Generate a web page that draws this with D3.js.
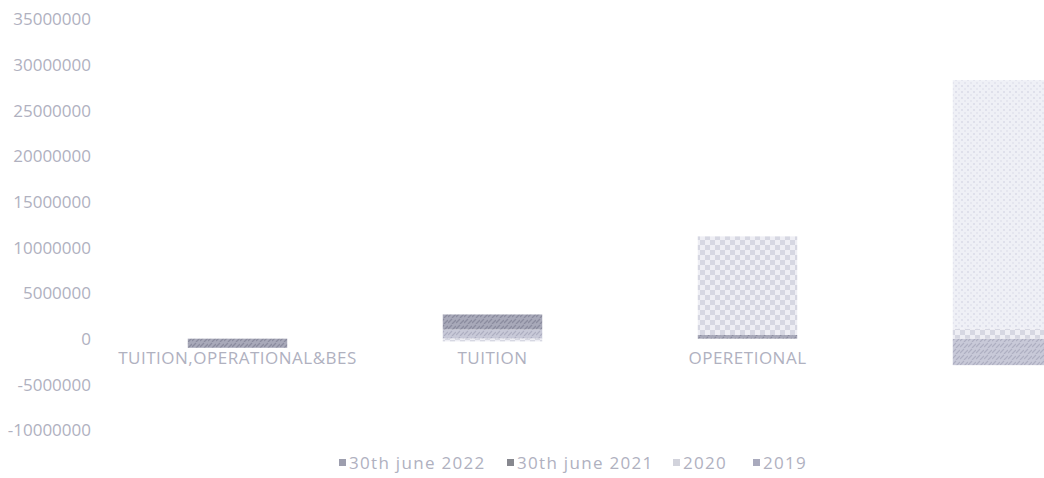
<!DOCTYPE html>
<html><head><meta charset="utf-8">
<script src="https://cdn.jsdelivr.net/npm/d3@7"></script>
<style>
html,body{margin:0;padding:0;background:#fff;}
svg{display:block;font-family:"Open Sans",sans-serif;}
</style></head>
<body>
<svg id="chart" width="1044" height="478"></svg>
<script>
const categories = ["TUITION,OPERATIONAL&BES", "TUITION", "OPERETIONAL", "BES"];
const seriesNames = ["30th june 2022", "30th june 2021", "2020", "2019"];
const s2022 = [0, 1000000, 0, -2900000];
const s2021 = [-1000000, 1650000, 400000, 0];
const s2020 = [0, -300000, 10800000, 1100000];
const s2019 = [0, 0, 0, 27200000];
const yTicks = [35000000, 30000000, 25000000, 20000000, 15000000, 10000000, 5000000, 0, -5000000, -10000000];

const seriesValues = [s2022, s2021, s2020, s2019];
const rows = categories.map((c, i) => {
  const r = {cat: c};
  seriesNames.forEach((s, j) => r[s] = seriesValues[j][i]);
  return r;
});

const svg = d3.select("#chart");
const W = 1044, H = 478;
svg.append("rect").attr("width", W).attr("height", H).attr("fill", "#fff");

const defs = svg.append("defs");
let p = defs.append("pattern").attr("id", "p0").attr("width", 8).attr("height", 6).attr("patternUnits", "userSpaceOnUse");
p.append("rect").attr("width", 8).attr("height", 6).attr("fill", "#c8c9d8");
p.append("path").attr("d", "M0,5 L4,1 M4,6 L8,2").attr("stroke", "#aeafc2").attr("stroke-width", 1.2);
p = defs.append("pattern").attr("id", "p1").attr("width", 8).attr("height", 6).attr("patternUnits", "userSpaceOnUse");
p.append("rect").attr("width", 8).attr("height", 6).attr("fill", "#a8a9b9");
p.append("path").attr("d", "M0,5 L4,1 M4,6 L8,2").attr("stroke", "#8b8c9f").attr("stroke-width", 1.3);
p = defs.append("pattern").attr("id", "p2").attr("width", 10).attr("height", 10).attr("patternUnits", "userSpaceOnUse");
p.append("rect").attr("width", 10).attr("height", 10).attr("fill", "#eeeef4");
p.append("rect").attr("width", 5).attr("height", 5).attr("fill", "#d6d7e2");
p.append("rect").attr("x", 5).attr("y", 5).attr("width", 5).attr("height", 5).attr("fill", "#d6d7e2");
p = defs.append("pattern").attr("id", "p3").attr("width", 6).attr("height", 6).attr("patternUnits", "userSpaceOnUse");
p.append("rect").attr("width", 6).attr("height", 6).attr("fill", "#eff0f6");
p.append("rect").attr("x", 1).attr("y", 1).attr("width", 2).attr("height", 2).attr("fill", "#dfe0eb");
p.append("rect").attr("x", 4).attr("y", 4).attr("width", 2).attr("height", 2).attr("fill", "#e5e6ef");

const fills = ["url(#p0)", "url(#p1)", "url(#p2)", "url(#p3)"];
const legendColors = ["#9d9eae", "#87888f", "#d2d3dc", "#a9aabd"];
const textColor = "#b0b1bf";

const x = d3.scaleBand().domain(categories).range([110, 1130]).paddingInner(0.61).paddingOuter(0.305);
const y = d3.scaleLinear().domain([-10000000, 35000000]).range([430, 19]);

const yAxis = d3.axisLeft(y).tickValues(yTicks).tickFormat(d => String(d)).tickSize(0).tickPadding(0);
const yg = svg.append("g").attr("transform", "translate(91,0)").call(yAxis);
yg.select(".domain").remove();
yg.selectAll("text").attr("fill", textColor).style("font-size", "17px").style("font-family", "'Open Sans',sans-serif").attr("dy", "0.35em");

const xAxis = d3.axisBottom(x).tickSize(0).tickPadding(0);
const xg = svg.append("g").attr("transform", `translate(0,${y(0)})`).call(xAxis);
xg.select(".domain").remove();
xg.selectAll("text").attr("fill", textColor).style("font-size", "17px").style("letter-spacing", "0.5px").style("font-family", "'Open Sans',sans-serif").attr("y", 13).attr("dy", "0.71em");

const stack = d3.stack().keys(seriesNames).offset(d3.stackOffsetDiverging);
const stacked = stack(rows);
svg.append("g").selectAll("g").data(stacked).join("g")
  .attr("fill", (d, i) => fills[i])
  .selectAll("rect").data(d => d.filter(v => v[1] !== v[0])).join("rect")
  .attr("x", d => x(d.data.cat))
  .attr("width", x.bandwidth())
  .attr("y", d => y(Math.max(d[0], d[1])))
  .attr("height", d => Math.abs(y(d[0]) - y(d[1])));

const legendX = [339, 507, 673, 753];
const lg = svg.append("g").attr("transform", "translate(0,463)");
seriesNames.forEach((s, i) => {
  lg.append("rect").attr("x", legendX[i]).attr("y", -4).attr("width", 7).attr("height", 7).attr("fill", legendColors[i]);
  lg.append("text").attr("x", legendX[i] + 10).attr("y", 0).attr("dy", "0.35em")
    .attr("fill", textColor).style("font-size", "17px").style("letter-spacing", "1.3px").text(s);
});
</script>
</body></html>
